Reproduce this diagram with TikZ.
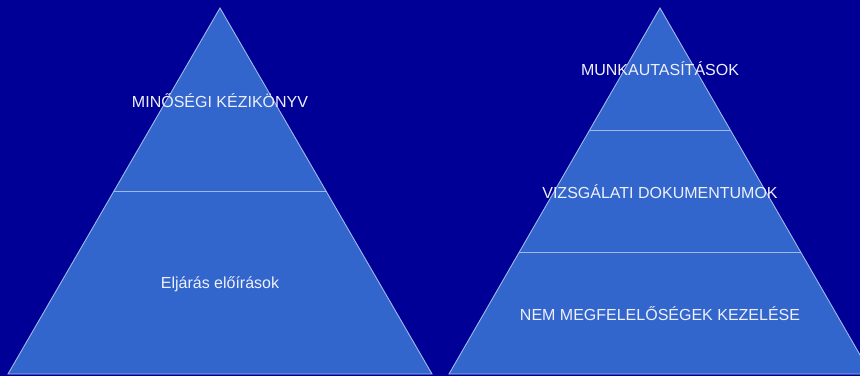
\documentclass[tikz,border=0pt]{standalone}
\usepackage{fontspec}
\setmainfont{Liberation Sans}
\definecolor{bgnavy}{RGB}{0,0,150}
\definecolor{pyrfill}{RGB}{51,102,204}
\definecolor{pyrline}{RGB}{160,185,235}
\definecolor{txtc}{RGB}{238,240,252}
\begin{document}
\begin{tikzpicture}[x=1pt,y=-1pt,
  pyr/.style={fill=pyrfill,draw=pyrline,line width=0.9pt},
  divider/.style={draw=pyrline,line width=1.4pt},
  lbl/.style={text=txtc,font=\fontsize{16}{19}\selectfont,inner sep=0pt}]
\fill[bgnavy] (0,0) rectangle (860,376);
\useasboundingbox (0,0) rectangle (860,376);
% left pyramid
\coordinate (LA) at (220,8);
\coordinate (LL) at (8,374);
\coordinate (LR) at (432,374);
\draw[pyr] (LA) -- (LL) -- (LR) -- cycle;
\coordinate (L1a) at (113.5,191.5);
\coordinate (L1b) at (326.5,191.5);
\draw[divider] (L1a) -- (L1b);
\node[lbl] (t1) at (220,101) {MINŐSÉGI KÉZIKÖNYV};
\node[lbl] (t2) at (220,284) {Eljárás előírások};
% right pyramid
\coordinate (RA) at (660,8);
\coordinate (RL) at (449,374);
\coordinate (RR) at (871,374);
\draw[pyr] (RA) -- (RL) -- (RR) -- cycle;
\coordinate (R1a) at (589.5,130.5);
\coordinate (R1b) at (730.5,130.5);
\coordinate (R2a) at (519,252.5);
\coordinate (R2b) at (801,252.5);
\draw[divider] (R1a) -- (R1b);
\draw[divider] (R2a) -- (R2b);
\node[lbl] (t3) at (660,69) {MUNKAUTASÍTÁSOK};
\node[lbl] (t4) at (660,192) {VIZSGÁLATI DOKUMENTUMOK};
\node[lbl] (t5) at (660,314) {NEM MEGFELELŐSÉGEK KEZELÉSE};
\end{tikzpicture}
\end{document}
